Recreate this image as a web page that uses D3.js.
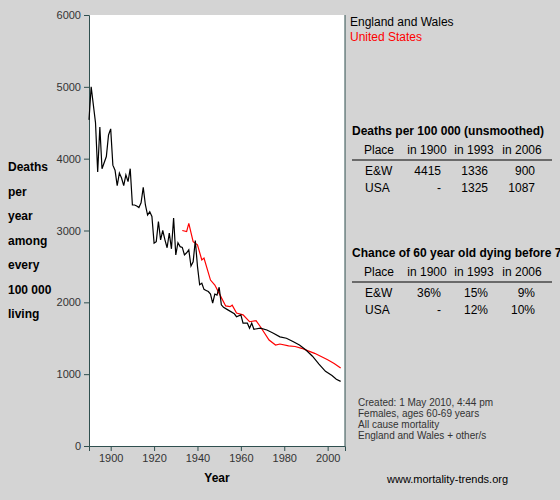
<!DOCTYPE html>
<html><head><meta charset="utf-8">
<script src="https://cdn.jsdelivr.net/npm/d3@7"></script>
<style>body{margin:0;background:#d4d4d4}svg text{font-family:"Liberation Sans",Arial,sans-serif}</style>
</head><body><svg id="c" width="560" height="500"></svg>
<script>
const ewYears=[1890,1891,1893,1894,1895,1896,1898,1899,1900,1901,1902,1903,1904,1905,1906,1907,1908,1909,1910,1911,1912,1913,1914,1915,1916,1917,1918,1919,1920,1921,1922,1923,1924,1925,1926,1927,1928,1929,1930,1931,1932,1933,1934,1935,1936,1937,1938,1939,1940,1941,1942,1943,1944,1945,1946,1947,1948,1949,1950,1951,1952,1954,1957,1958,1960,1961,1963,1964,1965,1966,1969,1972,1975,1978,1981,1984,1987,1990,1993,1996,1999,2002,2004,2006];
const ewValues=[4540,5000,4500,3815,4440,3860,4030,4330,4415,3910,3840,3625,3800,3730,3625,3775,3680,3860,3355,3355,3340,3320,3385,3600,3355,3215,3260,3195,2825,2845,3125,2870,3000,2870,2760,2965,2745,3175,2660,2830,2775,2765,2660,2690,2730,2505,2565,2860,2500,2245,2265,2180,2165,2150,2115,1990,2115,2100,2210,1965,1930,1895,1840,1800,1825,1710,1710,1640,1710,1625,1640,1615,1570,1520,1500,1455,1405,1336,1250,1140,1040,980,930,900];
const usYears=[1933,1935,1936,1938,1940,1942,1943,1946,1948,1950,1953,1955,1956,1958,1961,1964,1967,1969,1973,1976,1978,1982,1985,1988,1991,1994,1997,2000,2003,2006];
const usValues=[3000,2985,3100,2845,2800,2590,2615,2310,2240,2125,1950,1940,1960,1850,1825,1730,1745,1660,1475,1405,1420,1395,1385,1360,1325,1290,1245,1200,1150,1087];
const yTicks=[0,1000,2000,3000,4000,5000,6000];
const xTicks=[1900,1920,1940,1960,1980,2000];
const svg=d3.select("#c");
const x=d3.scaleLinear().domain([1890,2008]).range([89,345]);
const y=d3.scaleLinear().domain([0,6000]).range([446,15]);
svg.append("rect").attr("x",89).attr("y",15).attr("width",256).attr("height",431).attr("fill","#fff");
const ya=svg.append("g").attr("transform","translate(89,0)").call(d3.axisLeft(y).tickValues(yTicks).tickSize(5).tickFormat(d3.format("d")));
const xa=svg.append("g").attr("transform","translate(0,446)").call(d3.axisBottom(x).tickValues(xTicks).tickSize(5).tickFormat(d3.format("d")));
[ya,xa].forEach(a=>{a.selectAll("path,line").attr("stroke","#2f4f4f");a.selectAll("text").attr("fill","#333").attr("font-size",11);});
svg.append("line").attr("x1",345).attr("x2",345).attr("y1",15).attr("y2",446).attr("stroke","#2f4f4f");
const line=d3.line().x(d=>x(d[0])).y(d=>y(d[1]));
svg.append("path").datum(usYears.map((d,i)=>[d,usValues[i]])).attr("d",line).attr("fill","none").attr("stroke","#ff0000").attr("stroke-width",1.2);
svg.append("path").datum(ewYears.map((d,i)=>[d,ewValues[i]])).attr("d",line).attr("fill","none").attr("stroke","#000").attr("stroke-width",1.2);
const t=(s,xx,yy,o={})=>svg.append("text").attr("x",xx).attr("y",yy).text(s).attr("font-size",o.fs||12).attr("font-weight",o.b?"bold":"normal").attr("fill",o.c||"#000").attr("text-anchor",o.a||"start");
t("Year",217,482,{b:1,a:"middle"});
["Deaths","per","year","among","every","100 000","living"].forEach((s,i)=>t(s,8,171+i*24.5,{b:1}));
t("England and Wales",350,26);t("United States",350,41,{c:"#ff0000"});
function table(title,ty,rows){
 t(title,352,ty,{b:1});
 const cols=[379,427,474,522];
 ["Place","in 1900","in 1993","in 2006"].forEach((s,i)=>t(s,cols[i],ty+19,{a:"middle"}));
 svg.append("line").attr("x1",352).attr("x2",552).attr("y1",ty+25).attr("y2",ty+25).attr("stroke","#000");
 const rc=[0,441,488,535];
 rows.forEach((r,j)=>r.forEach((s,i)=>t(s,i==0?365:rc[i],ty+40+j*17,{a:i==0?"start":"end"})));
}
table("Deaths per 100 000 (unsmoothed)",135,[["E&W","4415","1336","900"],["USA","-","1325","1087"]]);
table("Chance of 60 year old dying before 70",257,[["E&W","36%","15%","9%"],["USA","-","12%","10%"]]);
["Created: 1 May 2010, 4:44 pm","Females, ages 60-69 years","All cause mortality","England and Wales + other/s"].forEach((s,i)=>t(s,358,406+i*11,{fs:10,c:"#333"}));
t("www.mortality-trends.org",387,483,{fs:11});
</script></body></html>
